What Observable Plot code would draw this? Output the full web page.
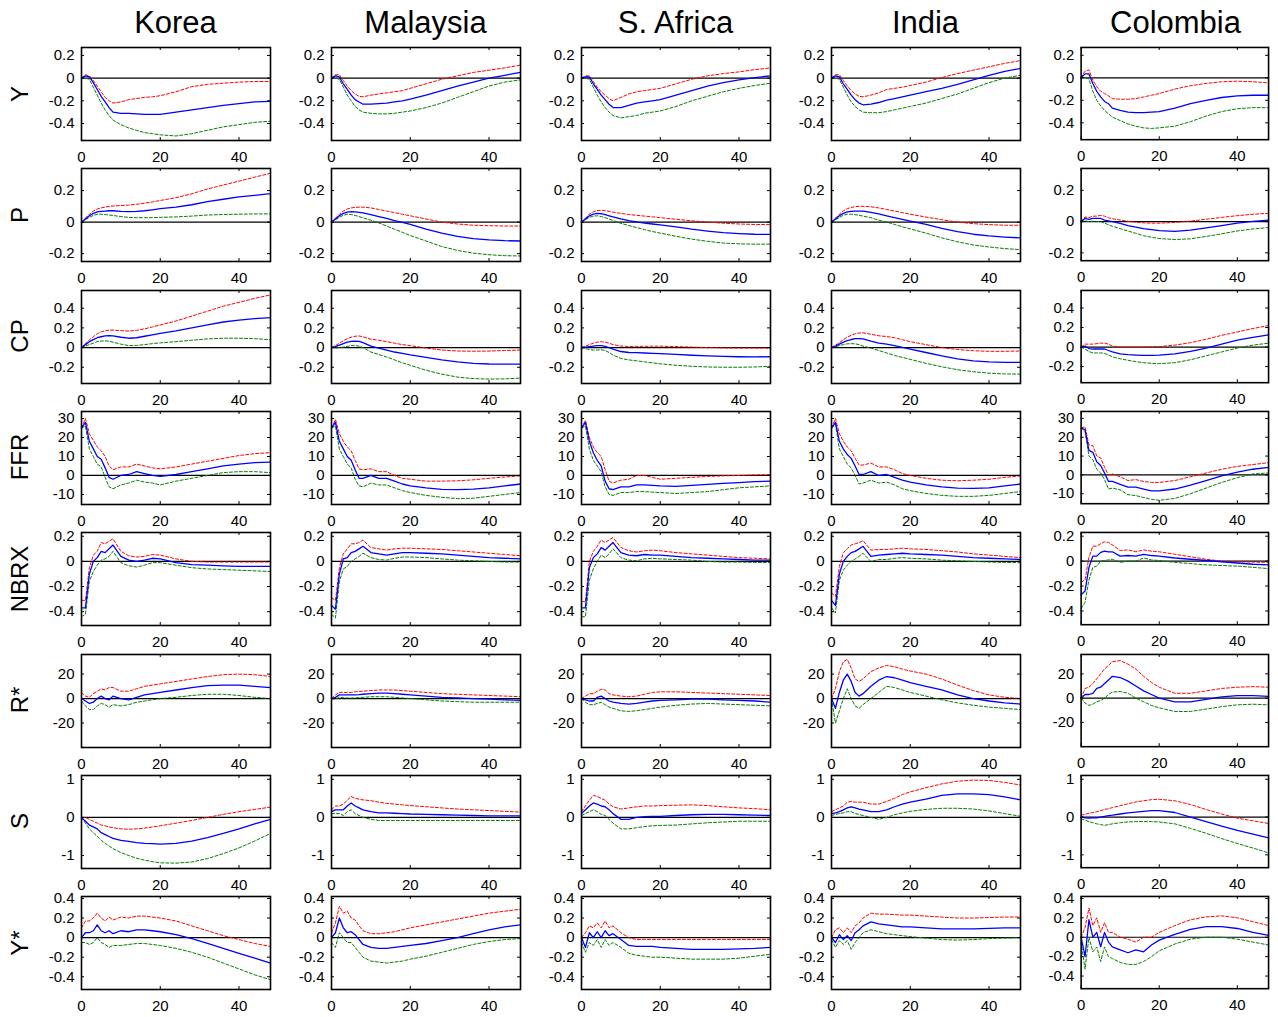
<!DOCTYPE html>
<html><head><meta charset="utf-8">
<script src="https://cdn.jsdelivr.net/npm/d3@7"></script>
<script src="https://cdn.jsdelivr.net/npm/@observablehq/plot@0.6"></script>
<style>
body{margin:0;background:#fff;}
#chart{position:relative;width:1278px;height:1017px;font-family:"Liberation Sans",Arial,Helvetica,sans-serif;color:#000;}
.title{position:absolute;top:22px;transform:translate(-50%,-50%);font-size:31px;white-space:nowrap;line-height:1}
.rowlab{position:absolute;left:20px;transform:translate(-50%,-50%) rotate(-90deg);font-size:24px;line-height:1;white-space:nowrap}
.panel{position:absolute}
</style></head><body><div id="chart"></div>
<script>
const horizon = [0,1,2,3,4,5,6,7,8,10,12,14,16,18,20,24,28,32,36,40,44,48];
const countries = ["Korea","Malaysia","S. Africa","India","Colombia"];
const variables = ["Y","P","CP","FFR","NBRX","R*","S","Y*"];
const xTicks = [0,20,40];

// ---- Y ----
const Y_med = [
 [0,0.02,0.01,-0.04,-0.1,-0.16,-0.21,-0.26,-0.3,-0.31,-0.31,-0.315,-0.32,-0.32,-0.32,-0.3,-0.28,-0.26,-0.24,-0.225,-0.21,-0.205],
 [0,0.02,0.01,-0.05,-0.1,-0.15,-0.19,-0.21,-0.23,-0.23,-0.225,-0.22,-0.21,-0.2,-0.185,-0.15,-0.11,-0.07,-0.035,0,0.025,0.05],
 [0,0.01,0.01,-0.05,-0.1,-0.15,-0.19,-0.23,-0.26,-0.26,-0.24,-0.22,-0.21,-0.2,-0.19,-0.15,-0.11,-0.07,-0.04,-0.015,0.005,0.02],
 [0,0.02,0.01,-0.05,-0.1,-0.15,-0.19,-0.22,-0.235,-0.23,-0.215,-0.195,-0.18,-0.165,-0.15,-0.12,-0.09,-0.055,-0.015,0.025,0.06,0.085],
 [0,0.035,0.035,-0.05,-0.12,-0.17,-0.21,-0.23,-0.27,-0.29,-0.305,-0.31,-0.31,-0.305,-0.3,-0.27,-0.23,-0.2,-0.175,-0.16,-0.155,-0.155]];
const Y_hi = [
 [0,0.03,0.02,-0.02,-0.07,-0.12,-0.17,-0.2,-0.22,-0.21,-0.19,-0.18,-0.17,-0.165,-0.155,-0.12,-0.075,-0.055,-0.045,-0.035,-0.03,-0.03],
 [0,0.03,0.03,-0.02,-0.07,-0.11,-0.14,-0.16,-0.165,-0.15,-0.14,-0.13,-0.12,-0.11,-0.09,-0.05,-0.01,0.02,0.05,0.07,0.09,0.115],
 [0,0.02,0.02,-0.03,-0.08,-0.12,-0.15,-0.18,-0.2,-0.17,-0.14,-0.12,-0.11,-0.1,-0.09,-0.05,-0.01,0.02,0.04,0.055,0.075,0.09],
 [0,0.03,0.03,-0.02,-0.07,-0.11,-0.14,-0.16,-0.165,-0.15,-0.13,-0.1,-0.09,-0.08,-0.065,-0.035,0.005,0.04,0.07,0.1,0.13,0.155],
 [0,0.06,0.07,-0.02,-0.08,-0.12,-0.14,-0.16,-0.185,-0.19,-0.19,-0.185,-0.17,-0.155,-0.14,-0.1,-0.07,-0.05,-0.035,-0.03,-0.035,-0.045]];
const Y_lo = [
 [0,0,-0.01,-0.08,-0.15,-0.22,-0.28,-0.33,-0.37,-0.41,-0.44,-0.46,-0.48,-0.49,-0.5,-0.51,-0.49,-0.46,-0.43,-0.41,-0.39,-0.38],
 [0,0,-0.01,-0.08,-0.15,-0.2,-0.25,-0.28,-0.3,-0.31,-0.315,-0.315,-0.31,-0.3,-0.29,-0.26,-0.22,-0.17,-0.12,-0.07,-0.035,-0.015],
 [0,0,-0.01,-0.08,-0.15,-0.21,-0.26,-0.3,-0.33,-0.35,-0.34,-0.33,-0.31,-0.3,-0.29,-0.25,-0.2,-0.16,-0.12,-0.09,-0.065,-0.045],
 [0,0,-0.01,-0.08,-0.15,-0.21,-0.25,-0.28,-0.3,-0.305,-0.305,-0.295,-0.28,-0.265,-0.25,-0.22,-0.18,-0.14,-0.09,-0.04,0,0.025],
 [0,0,-0.01,-0.12,-0.2,-0.25,-0.29,-0.32,-0.35,-0.38,-0.41,-0.43,-0.445,-0.45,-0.445,-0.43,-0.39,-0.34,-0.3,-0.275,-0.265,-0.265]];

// ---- P ----
const P_med = [
 [0,0.02,0.04,0.055,0.065,0.068,0.07,0.072,0.072,0.068,0.066,0.068,0.072,0.078,0.085,0.095,0.11,0.13,0.145,0.16,0.17,0.18],
 [0,0.02,0.04,0.055,0.063,0.066,0.065,0.062,0.058,0.048,0.035,0.023,0.01,-0.002,-0.015,-0.045,-0.07,-0.09,-0.105,-0.113,-0.118,-0.12],
 [0,0.02,0.04,0.05,0.055,0.053,0.047,0.04,0.033,0.02,0.01,0.002,-0.006,-0.012,-0.018,-0.03,-0.045,-0.057,-0.067,-0.073,-0.077,-0.078],
 [0,0.02,0.04,0.055,0.065,0.068,0.07,0.07,0.069,0.062,0.052,0.04,0.028,0.017,0.006,-0.015,-0.04,-0.06,-0.077,-0.088,-0.095,-0.1],
 [0,0.02,0.015,0.02,0.02,0.02,0.01,0.005,0,-0.012,-0.025,-0.035,-0.045,-0.052,-0.058,-0.062,-0.055,-0.04,-0.025,-0.01,0.002,0.01]];
const P_hi = [
 [0,0.025,0.05,0.07,0.083,0.09,0.095,0.1,0.102,0.105,0.108,0.113,0.12,0.128,0.137,0.155,0.18,0.21,0.235,0.26,0.285,0.31],
 [0,0.025,0.05,0.07,0.083,0.09,0.093,0.095,0.095,0.09,0.08,0.07,0.06,0.05,0.04,0.02,0,-0.012,-0.02,-0.023,-0.025,-0.025],
 [0,0.025,0.05,0.065,0.073,0.075,0.072,0.068,0.063,0.055,0.048,0.043,0.038,0.033,0.028,0.018,0.008,0,-0.007,-0.012,-0.015,-0.016],
 [0,0.025,0.05,0.072,0.085,0.093,0.098,0.1,0.1,0.097,0.09,0.08,0.07,0.06,0.05,0.032,0.015,0,-0.01,-0.016,-0.02,-0.02],
 [0,0.03,0.025,0.035,0.035,0.04,0.035,0.025,0.018,0.01,0.002,-0.004,-0.008,-0.01,-0.01,-0.005,0.003,0.015,0.027,0.038,0.047,0.053]];
const P_lo = [
 [0,0.015,0.03,0.042,0.05,0.05,0.048,0.045,0.042,0.035,0.03,0.028,0.028,0.028,0.03,0.033,0.038,0.045,0.048,0.05,0.052,0.052],
 [0,0.015,0.03,0.043,0.05,0.048,0.042,0.035,0.027,0.012,-0.005,-0.025,-0.045,-0.065,-0.085,-0.12,-0.155,-0.18,-0.197,-0.207,-0.213,-0.215],
 [0,0.015,0.03,0.038,0.04,0.035,0.028,0.02,0.01,-0.008,-0.022,-0.035,-0.048,-0.06,-0.07,-0.09,-0.108,-0.122,-0.133,-0.138,-0.14,-0.14],
 [0,0.015,0.03,0.043,0.05,0.05,0.047,0.043,0.038,0.028,0.012,0,-0.015,-0.03,-0.043,-0.07,-0.1,-0.125,-0.145,-0.158,-0.168,-0.175],
 [0,0.005,0,0.002,0,0,-0.01,-0.02,-0.03,-0.045,-0.06,-0.075,-0.09,-0.1,-0.108,-0.115,-0.11,-0.095,-0.078,-0.06,-0.047,-0.038]];

// ---- CP ----
const CP_med = [
 [0,0.03,0.06,0.08,0.1,0.11,0.118,0.12,0.118,0.105,0.095,0.1,0.115,0.13,0.145,0.17,0.2,0.23,0.26,0.28,0.295,0.305],
 [0,0.01,0.025,0.04,0.055,0.063,0.066,0.063,0.05,0.015,-0.005,-0.025,-0.045,-0.06,-0.075,-0.1,-0.125,-0.145,-0.16,-0.167,-0.168,-0.168],
 [0,0.005,0.01,0.015,0.02,0.02,0.012,0,-0.015,-0.04,-0.05,-0.052,-0.055,-0.058,-0.062,-0.07,-0.078,-0.085,-0.09,-0.093,-0.094,-0.093],
 [0,0.015,0.035,0.055,0.07,0.082,0.09,0.092,0.088,0.065,0.045,0.035,0.02,0.002,-0.015,-0.05,-0.085,-0.115,-0.135,-0.145,-0.15,-0.15],
 [0,0.01,-0.015,-0.02,-0.02,-0.018,-0.02,-0.035,-0.05,-0.07,-0.078,-0.082,-0.085,-0.085,-0.083,-0.07,-0.045,-0.01,0.03,0.07,0.1,0.125]];
const CP_hi = [
 [0,0.04,0.08,0.11,0.14,0.16,0.17,0.177,0.178,0.172,0.168,0.175,0.19,0.21,0.23,0.27,0.32,0.37,0.42,0.46,0.5,0.535],
 [0,0.02,0.045,0.07,0.09,0.105,0.115,0.118,0.11,0.085,0.075,0.06,0.045,0.03,0.02,-0.005,-0.025,-0.035,-0.037,-0.035,-0.03,-0.025],
 [0,0.015,0.03,0.045,0.055,0.06,0.055,0.045,0.03,0.015,0.012,0.012,0.013,0.014,0.014,0.01,0.005,0,-0.003,-0.005,-0.005,-0.005],
 [0,0.025,0.05,0.08,0.105,0.125,0.14,0.148,0.15,0.135,0.12,0.112,0.1,0.08,0.06,0.03,0,-0.02,-0.032,-0.038,-0.038,-0.035],
 [0,0.03,0.03,0.03,0.035,0.04,0.04,0.03,0.01,0,0,0,0,0.002,0.005,0.02,0.045,0.08,0.12,0.155,0.19,0.22]];
const CP_lo = [
 [0,0.015,0.03,0.045,0.06,0.067,0.068,0.065,0.055,0.035,0.02,0.022,0.03,0.04,0.048,0.06,0.075,0.088,0.095,0.095,0.09,0.08],
 [0,-0.005,0,0.005,0.012,0.02,0.02,0.015,0,-0.045,-0.07,-0.095,-0.125,-0.155,-0.18,-0.23,-0.27,-0.3,-0.315,-0.32,-0.318,-0.31],
 [0,-0.01,-0.02,-0.025,-0.025,-0.022,-0.03,-0.05,-0.075,-0.11,-0.125,-0.135,-0.145,-0.155,-0.165,-0.18,-0.19,-0.197,-0.2,-0.2,-0.197,-0.19],
 [0,0.01,0.02,0.03,0.038,0.04,0.038,0.03,0.015,-0.005,-0.03,-0.055,-0.08,-0.1,-0.12,-0.16,-0.195,-0.225,-0.245,-0.26,-0.268,-0.27],
 [0,-0.02,-0.045,-0.06,-0.06,-0.06,-0.065,-0.08,-0.1,-0.12,-0.135,-0.15,-0.16,-0.167,-0.17,-0.16,-0.13,-0.09,-0.05,-0.01,0.02,0.04]];

// ---- FFR ----
const FFR_med = [
 [25,28,18,14,10,8.5,4,-1,-2,0,0.5,2,1,0,-0.5,0.5,2,3.5,5,6,6.8,7],
 [25,28,18,14,10,8,3,-1.5,-1.5,0,-1.5,-1.5,-3,-4.5,-5.5,-6.5,-7.3,-7.5,-7.2,-6.5,-5.5,-4.5],
 [25,28,18,12,8,5,-3,-7,-7.5,-6,-6,-5,-5,-5.2,-5.5,-5.8,-5.2,-4.7,-4.2,-3.8,-3.3,-3],
 [25,28,18,14,11,9,5,0.5,0.5,2,0,0.5,-1,-2.5,-3.5,-5,-6,-6.7,-6.8,-6.5,-5.5,-4.5],
 [25,24,13,12,7,5,1,-3.5,-3.5,-5,-6.5,-6.5,-7.5,-8.5,-8.5,-7.5,-5.5,-3,-0.5,1.5,3,4]];
const FFR_hi = [
 [25,30,22,18.5,15,13,10,5,3,4.5,4.5,6,5,4,3.5,4.5,6,7.5,9,10.5,11.5,12],
 [25,29.5,22,18,15,13,8,3.5,3,3.5,2,2,0,-1.5,-2,-3,-3,-2.8,-2.3,-1.5,-0.8,-0.2],
 [25,29,20,15,12,10,3,-3,-4,-2.5,-2,0,0,-1,-2,-1.5,-1,-0.5,-0.2,0,0.3,0.5],
 [25,30,22,18,15,13,9,5.5,5.5,6.5,4.5,4.5,3,1,0,-1.5,-2.5,-2.8,-2.5,-2,-1,-0.2],
 [25,25.5,16,15.5,10,9,4,0,0.5,-1,-3,-2.5,-3.5,-4,-4,-3,-1,1,3,4.5,5.5,6.5]];
const FFR_lo = [
 [25,26,14,10,6,4.5,-1,-6,-7,-5,-4,-2.5,-3.5,-4,-5,-3,-1.5,0,1.5,2,2,1.5],
 [25,26,14,10,6,4,-2,-5.5,-6,-4,-5,-5,-6.5,-8,-9,-10.5,-11.5,-12.2,-12,-11,-10,-9],
 [25,26,14,8,5,2,-6,-10,-10.5,-9,-9,-8.5,-8.5,-8.8,-9,-9.5,-9,-8.5,-7.5,-6.5,-6,-5.5],
 [25,27,14,10,6,4,0,-4.5,-4,-2.5,-4,-3.5,-5,-7,-8,-9.5,-10.5,-11,-11,-10.5,-9.5,-8.5],
 [25,23,10,8,3,1,-2.5,-7.5,-7,-8,-10.5,-11,-12,-13,-13.5,-12.5,-10,-7,-4,-1.5,0.5,1]];

// ---- NBRX ----
const NBRX_med = [
 [-0.37,-0.37,-0.1,0,0.03,0.08,0.07,0.1,0.13,0.04,0.01,0,0.01,0.025,0.02,-0.01,-0.025,-0.03,-0.035,-0.04,-0.04,-0.04],
 [-0.35,-0.38,-0.1,0.02,0.03,0.07,0.08,0.1,0.12,0.07,0.06,0.05,0.06,0.07,0.07,0.065,0.06,0.05,0.04,0.03,0.025,0.02],
 [-0.37,-0.37,-0.05,0.03,0.06,0.11,0.09,0.12,0.15,0.07,0.05,0.045,0.055,0.05,0.05,0.04,0.03,0.025,0.02,0.015,0.01,0.01],
 [-0.31,-0.35,-0.1,0,0.04,0.07,0.08,0.1,0.12,0.04,0.05,0.055,0.06,0.065,0.06,0.055,0.05,0.04,0.03,0.025,0.02,0.015],
 [-0.27,-0.24,-0.05,0.04,0.04,0.07,0.08,0.075,0.075,0.04,0.045,0.04,0.055,0.045,0.04,0.025,0.015,0.005,-0.005,-0.015,-0.025,-0.03]];
const NBRX_hi = [
 [-0.31,-0.31,-0.05,0.05,0.08,0.15,0.14,0.16,0.18,0.08,0.045,0.035,0.04,0.055,0.05,0.02,0,-0.005,-0.005,-0.005,-0.005,-0.005],
 [-0.29,-0.31,-0.05,0.06,0.1,0.14,0.14,0.15,0.17,0.11,0.1,0.09,0.1,0.105,0.105,0.1,0.095,0.085,0.075,0.065,0.055,0.045],
 [-0.32,-0.32,0,0.08,0.12,0.17,0.15,0.17,0.19,0.11,0.085,0.075,0.085,0.09,0.085,0.07,0.06,0.05,0.04,0.03,0.025,0.02],
 [-0.25,-0.28,-0.04,0.07,0.1,0.13,0.14,0.15,0.165,0.09,0.095,0.095,0.1,0.105,0.1,0.095,0.085,0.075,0.06,0.05,0.04,0.03],
 [-0.17,-0.15,0.03,0.12,0.12,0.14,0.155,0.15,0.13,0.085,0.09,0.075,0.09,0.08,0.075,0.055,0.035,0.015,0,-0.005,-0.008,-0.01]];
const NBRX_lo = [
 [-0.44,-0.42,-0.16,-0.08,-0.03,0.01,0.02,0.04,0.08,-0.01,-0.035,-0.045,-0.03,-0.01,-0.01,-0.03,-0.05,-0.06,-0.065,-0.07,-0.075,-0.08],
 [-0.42,-0.45,-0.16,-0.06,-0.04,0,0.02,0.04,0.065,0.03,0.015,0.01,0.025,0.035,0.035,0.03,0.02,0.01,0.005,0,-0.005,-0.005],
 [-0.44,-0.44,-0.15,-0.06,0,0.05,0.03,0.06,0.1,0.03,0.01,0.005,0.02,0.025,0.02,0.015,0.01,0,-0.005,-0.005,-0.008,-0.01],
 [-0.37,-0.41,-0.15,-0.07,-0.03,0,0.02,0.04,0.065,0,0.015,0.015,0.025,0.03,0.025,0.02,0.01,0.005,0,-0.005,-0.008,-0.01],
 [-0.38,-0.33,-0.15,-0.05,-0.04,0,0.005,0.01,0.015,-0.01,0,0,0.025,0.01,0.005,-0.01,-0.02,-0.03,-0.035,-0.04,-0.05,-0.06]];

// ---- R* ----
const RS_med = [
 [0,-2,-4,-3,0,2,0,-1,2,0,-1,1,3,4,5,7,9,10.5,11,11,10,9],
 [0,1,3,3,3,3,3,3.2,3.5,4,4.5,4.5,4,3.5,3,2,1,0.5,0,-0.5,-1,-1.5],
 [0,-1,-2,-2,1,2,0,-2,-3,-4,-4.5,-4,-3,-2,-1.5,-1,-0.5,-0.5,-1,-1.5,-2,-3],
 [0,-8,5,15,20,14,5,2,4,10,15,18,17,15,13,10,7,3,0,-2,-3.5,-4.5],
 [0,3,3,4,8,9,12,15,18,17,14,10,6,3,0,-3,-3,-1,1,2,2,1.5]];
const RS_hi = [
 [5,2,1,4,6,8,7,9,9,6,6,8,10,11,12,14,16,18,19.5,20,19.5,18],
 [0,3,5,5,5,5,5.5,5.8,6,6.5,7,7,7,6.5,6,5,4,3.5,3,2.5,2,1.5],
 [0,2,4,4,6,7.5,7,4,3,2,1.5,2,3.5,5,5.5,5.5,5,4.5,4,3.5,3,2.5],
 [0,8,22,30,32,25,16,14,16,22,25,27,26,24,22.5,20,16,11,6.5,3,1,0],
 [0,8,9,12,16,20,24,27,30,31,28,24,18,13,9,4,4,6,8,9,9.5,9]];
const RS_lo = [
 [-2,-6,-9,-9,-6,-4,-5,-7,-5,-6,-5,-3,-2,-1,0,1,2.5,3.5,3.5,2.5,1,0],
 [0,-0.5,1,0.8,0.5,0.5,0.5,0.8,1,1.5,1.5,1.5,1,0.5,0,-1,-2,-2.5,-3,-3,-3,-3],
 [0,-3,-5,-5,-4,-3,-5,-7,-8,-10,-10.5,-10,-9,-8,-7,-5.5,-4.5,-4,-4.5,-5,-5.5,-6],
 [0,-20,-10,0,8,0,-6,-8,-5,0,5,10,9,7,5,2,-1,-3.5,-5.5,-7,-8,-9],
 [0,-4,-6,-5,-3,-2,0,3,5,5.5,4,0,-3,-6,-8,-11,-11,-9,-7,-5.5,-5,-5.5]];

// ---- S ----
const S_med = [
 [0,-0.1,-0.2,-0.25,-0.3,-0.4,-0.45,-0.5,-0.55,-0.6,-0.63,-0.66,-0.68,-0.69,-0.7,-0.68,-0.62,-0.53,-0.42,-0.3,-0.17,-0.05],
 [0.15,0.2,0.2,0.2,0.3,0.38,0.3,0.25,0.2,0.15,0.12,0.12,0.11,0.1,0.09,0.08,0.07,0.06,0.05,0.04,0.04,0.04],
 [0.1,0.2,0.3,0.38,0.35,0.3,0.28,0.2,0.1,-0.05,-0.05,0,0.02,0.03,0.03,0.05,0.07,0.08,0.08,0.07,0.06,0.05],
 [0.1,0.12,0.15,0.2,0.25,0.28,0.25,0.22,0.2,0.15,0.15,0.2,0.28,0.35,0.4,0.48,0.58,0.62,0.62,0.6,0.54,0.46],
 [0,-0.02,-0.03,-0.02,-0.02,0,0.02,0.04,0.05,0.08,0.11,0.13,0.15,0.17,0.17,0.12,0,-0.12,-0.24,-0.35,-0.45,-0.55]];
const S_hi = [
 [0,0,-0.05,-0.1,-0.15,-0.2,-0.22,-0.25,-0.27,-0.3,-0.31,-0.3,-0.28,-0.25,-0.22,-0.15,-0.08,0,0.08,0.15,0.21,0.27],
 [0.2,0.3,0.3,0.35,0.45,0.55,0.5,0.48,0.46,0.44,0.4,0.37,0.35,0.33,0.31,0.28,0.25,0.22,0.2,0.18,0.16,0.14],
 [0.15,0.3,0.45,0.58,0.55,0.5,0.45,0.35,0.28,0.22,0.25,0.28,0.3,0.3,0.31,0.32,0.33,0.31,0.28,0.25,0.23,0.2],
 [0.15,0.2,0.25,0.3,0.4,0.42,0.4,0.4,0.4,0.35,0.35,0.42,0.5,0.6,0.67,0.78,0.88,0.95,0.98,0.97,0.92,0.85],
 [0.05,0.07,0.1,0.12,0.14,0.17,0.2,0.22,0.25,0.3,0.35,0.4,0.43,0.46,0.47,0.43,0.33,0.2,0.08,-0.03,-0.1,-0.17]];
const S_lo = [
 [0,-0.15,-0.3,-0.4,-0.5,-0.6,-0.68,-0.75,-0.82,-0.92,-1,-1.07,-1.12,-1.16,-1.19,-1.2,-1.17,-1.08,-0.95,-0.8,-0.62,-0.42],
 [0.1,0.1,0.1,0.05,0.15,0.2,0.1,0.05,0,-0.05,-0.08,-0.08,-0.08,-0.08,-0.08,-0.08,-0.08,-0.08,-0.08,-0.08,-0.08,-0.08],
 [0.05,0.1,0.15,0.2,0.15,0.08,0.05,-0.05,-0.15,-0.3,-0.3,-0.27,-0.24,-0.22,-0.21,-0.2,-0.17,-0.14,-0.12,-0.1,-0.1,-0.1],
 [0.05,0.08,0.1,0.12,0.15,0.15,0.1,0.08,0.05,0,-0.05,0,0.07,0.12,0.16,0.21,0.24,0.24,0.22,0.17,0.1,0.03],
 [-0.05,-0.08,-0.12,-0.15,-0.18,-0.2,-0.22,-0.2,-0.18,-0.15,-0.13,-0.12,-0.12,-0.12,-0.13,-0.18,-0.3,-0.43,-0.57,-0.7,-0.82,-0.95]];

// ---- Y* ----
const YS_med = [
 [0,0.05,0.05,0.07,0.13,0.07,0.05,0.07,0.04,0.07,0.06,0.08,0.08,0.07,0.06,0.03,-0.01,-0.06,-0.11,-0.16,-0.21,-0.26],
 [0,0.05,0.2,0.1,0.05,0.06,0.03,-0.02,-0.07,-0.1,-0.11,-0.11,-0.1,-0.09,-0.08,-0.06,-0.03,0,0.04,0.08,0.11,0.13],
 [0,-0.1,0.05,0,0.06,0,0.07,0.02,0.04,-0.02,-0.08,-0.09,-0.09,-0.09,-0.1,-0.11,-0.12,-0.12,-0.12,-0.115,-0.11,-0.1],
 [0,-0.05,0.03,-0.02,0.02,-0.03,0.05,0.08,0.12,0.16,0.14,0.13,0.12,0.11,0.11,0.1,0.09,0.09,0.09,0.095,0.1,0.1],
 [0,-0.2,0.18,0,0.05,-0.1,0.05,-0.05,-0.1,-0.13,-0.16,-0.13,-0.15,-0.08,-0.03,0.03,0.08,0.11,0.11,0.09,0.05,0.02]];
const YS_hi = [
 [0.1,0.17,0.17,0.2,0.25,0.2,0.17,0.21,0.18,0.21,0.2,0.22,0.22,0.21,0.2,0.17,0.12,0.07,0.02,-0.02,-0.06,-0.09],
 [0.05,0.15,0.32,0.25,0.27,0.2,0.18,0.12,0.07,0.04,0.04,0.05,0.06,0.08,0.1,0.13,0.16,0.19,0.22,0.25,0.27,0.29],
 [0,0.05,0.12,0.1,0.15,0.1,0.17,0.1,0.12,0.05,0,-0.02,-0.02,-0.02,-0.02,-0.02,-0.02,-0.02,-0.02,-0.02,-0.02,-0.02],
 [0,0.08,0.1,0.05,0.1,0.05,0.12,0.15,0.2,0.25,0.24,0.24,0.235,0.23,0.23,0.22,0.21,0.2,0.2,0.205,0.21,0.21],
 [0,0.1,0.3,0.12,0.2,0.05,0.15,0.05,0.05,0,-0.02,-0.05,0,0,0.05,0.12,0.18,0.21,0.22,0.2,0.16,0.12]];
const YS_lo = [
 [-0.05,-0.05,-0.07,-0.05,0,-0.05,-0.07,-0.1,-0.08,-0.08,-0.07,-0.06,-0.06,-0.07,-0.08,-0.11,-0.15,-0.2,-0.26,-0.32,-0.38,-0.43],
 [-0.05,-0.1,0.05,0,-0.05,-0.05,-0.1,-0.15,-0.2,-0.24,-0.25,-0.26,-0.25,-0.24,-0.22,-0.19,-0.15,-0.11,-0.07,-0.04,-0.02,-0.01],
 [-0.05,-0.15,-0.05,-0.08,-0.02,-0.1,-0.02,-0.08,-0.05,-0.1,-0.16,-0.18,-0.19,-0.2,-0.2,-0.21,-0.22,-0.22,-0.22,-0.21,-0.19,-0.17],
 [-0.02,-0.1,-0.03,-0.07,-0.03,-0.12,-0.05,0,0.05,0.08,0.06,0.04,0.03,0.02,0.01,-0.005,-0.02,-0.025,-0.02,-0.01,-0.005,0],
 [-0.05,-0.33,0,-0.15,-0.1,-0.25,-0.1,-0.2,-0.22,-0.26,-0.28,-0.28,-0.25,-0.2,-0.14,-0.07,-0.02,0,0,-0.02,-0.05,-0.08]];

// y-axis extents and tick values per row
const yDomains = [[-0.55,0.27],[-0.25,0.34],[-0.365,0.58],[-15.3,33.7],[-0.51,0.23],[-40,36],[-1.34,1.1],[-0.53,0.42]];
const yTicks = [[-0.4,-0.2,0,0.2],[-0.2,0,0.2],[-0.2,0,0.2,0.4],[-10,0,10,20,30],[-0.4,-0.2,0,0.2],[-20,0,20],[-1,0,1],[-0.4,-0.2,0,0.2,0.4]];

const series = [
  [Y_lo,Y_med,Y_hi],[P_lo,P_med,P_hi],[CP_lo,CP_med,CP_hi],[FFR_lo,FFR_med,FFR_hi],
  [NBRX_lo,NBRX_med,NBRX_hi],[RS_lo,RS_med,RS_hi],[S_lo,S_med,S_hi],[YS_lo,YS_med,YS_hi]];

const chart = document.getElementById("chart");
const FONT = '"Liberation Sans", Arial, Helvetica, sans-serif';
const PW = 189, PH = 93, ML = 45, MR = 10, MT = 5, MB = 25;
const X0 = 81, COLSTEP = 250, Y0 = 47, ROWSTEP = 121.3;

countries.forEach((c, ci) => {
  const d = document.createElement("div");
  d.className = "title";
  d.style.left = (X0 + ci * COLSTEP + PW / 2) + "px";
  d.textContent = c;
  chart.appendChild(d);
});

variables.forEach((v, r) => {
  const lab = document.createElement("div");
  lab.className = "rowlab";
  lab.style.top = (Y0 + r * ROWSTEP + PH / 2) + "px";
  lab.textContent = v;
  chart.appendChild(lab);

  const [lo, med, hi] = series[r];
  countries.forEach((c, ci) => {
    const rows = arr => horizon.map((h, i) => ({h, v: arr[ci][i]}));
    const fmt = t => String(t);
    const plot = Plot.plot({
      width: ML + PW + MR, height: MT + PH + MB,
      marginLeft: ML, marginRight: MR, marginTop: MT, marginBottom: MB,
      style: {fontFamily: FONT, fontSize: "15px", color: "black", background: "transparent", overflow: "visible"},
      x: {domain: [0, 48], label: null},
      y: {domain: yDomains[r], label: null},
      marks: [
        Plot.ruleY([0], {stroke: "black", strokeWidth: 1.2}),
        Plot.line(rows(hi), {x: "h", y: "v", stroke: "#ff0000", strokeWidth: 1, strokeDasharray: "3,2"}),
        Plot.line(rows(lo), {x: "h", y: "v", stroke: "#008000", strokeWidth: 1, strokeDasharray: "3,2"}),
        Plot.line(rows(med), {x: "h", y: "v", stroke: "#0000ff", strokeWidth: 1.3}),
        Plot.tickX(xTicks, {x: t => t, insetTop: PH - 3, stroke: "black"}),
        Plot.tickX(xTicks, {x: t => t, insetBottom: PH - 3, stroke: "black"}),
        Plot.tickY(yTicks[r], {y: t => t, insetRight: PW - 3, stroke: "black"}),
        Plot.tickY(yTicks[r], {y: t => t, insetLeft: PW - 3, stroke: "black"}),
        Plot.axisX({ticks: xTicks, tickSize: 0, tickPadding: 11, tickFormat: fmt, label: null}),
        Plot.axisY({ticks: yTicks[r], tickSize: 0, tickPadding: 7, tickFormat: fmt, label: null}),
        Plot.frame({stroke: "black", strokeWidth: 1.6})
      ]
    });
    const wrap = document.createElement("div");
    wrap.className = "panel";
    wrap.style.left = (X0 + ci * COLSTEP - ML) + "px";
    wrap.style.top = (Y0 + r * ROWSTEP - MT) + "px";
    wrap.appendChild(plot);
    chart.appendChild(wrap);
  });
});
</script>
</body></html>
